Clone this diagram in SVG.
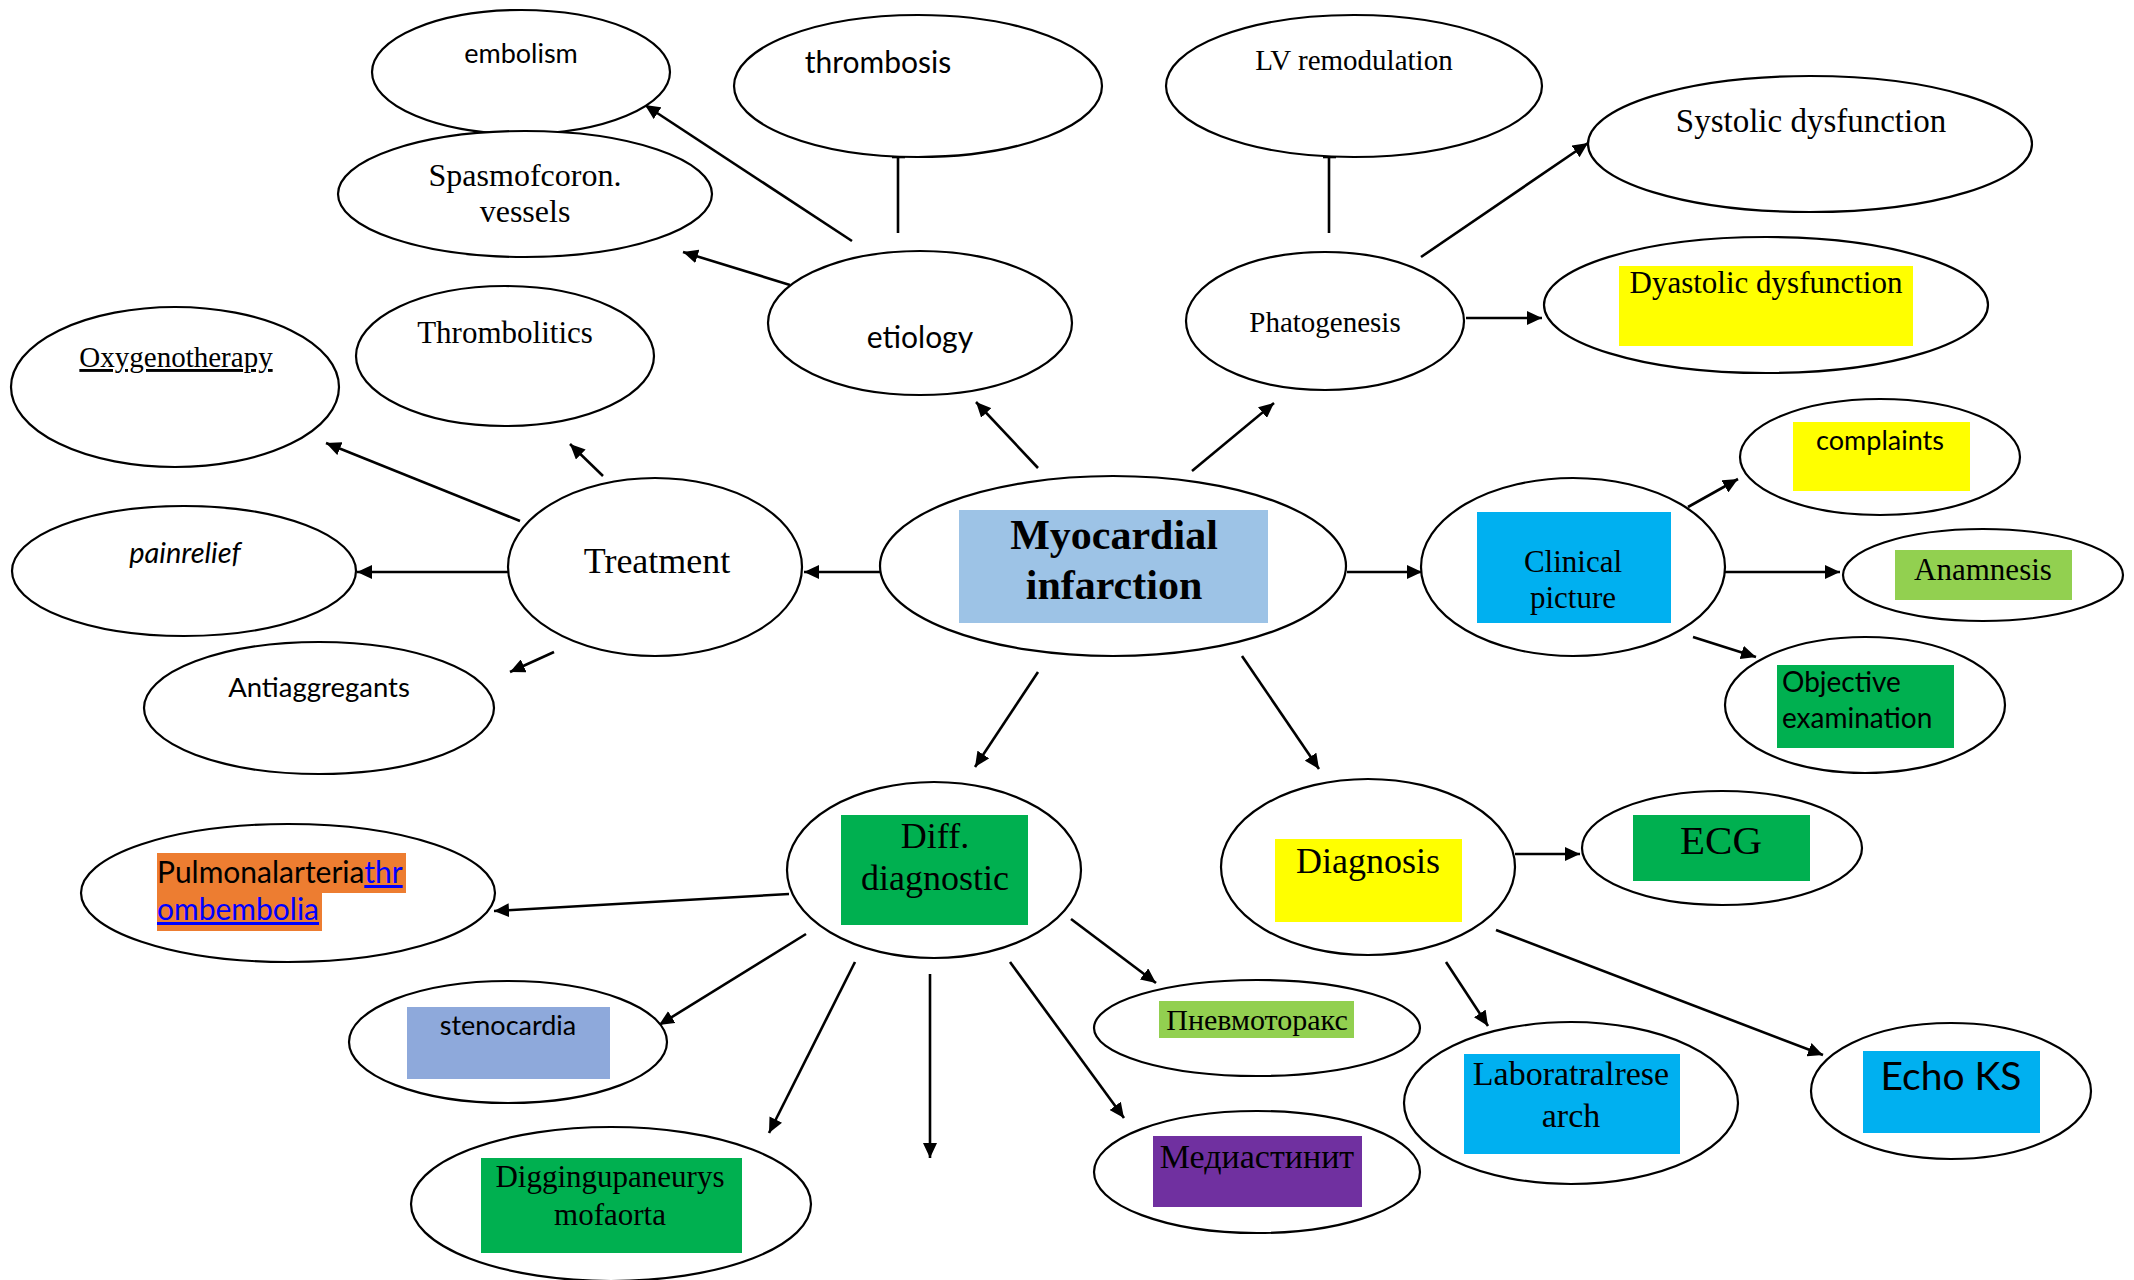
<svg xmlns="http://www.w3.org/2000/svg" width="2134" height="1280" viewBox="0 0 2134 1280">
<style>
.n{fill:#fff;stroke:#000;stroke-width:2.2}
.c line{stroke:#000;stroke-width:2.6}
.s{font-family:"Liberation Serif","Times New Roman",serif;fill:#000;text-anchor:middle}
.a{font-family:Lato,"Liberation Sans",sans-serif;fill:#000;text-anchor:middle}
.st{text-anchor:start}
.lk{fill:#0000ff;text-decoration:underline}
</style>
<defs>
<marker id="ah" markerUnits="userSpaceOnUse" markerWidth="16" markerHeight="14" refX="15" refY="7" orient="auto">
<path d="M0,0 L15,7 L0,14 z" fill="#000"/>
</marker>
</defs>
<rect width="2134" height="1280" fill="#fff"/>

<g class="c" id="connectors">
<line x1="1038" y1="468" x2="976" y2="402" marker-end="url(#ah)"/>
<line x1="1192" y1="471" x2="1274" y2="403" marker-end="url(#ah)"/>
<line x1="880" y1="572" x2="804" y2="572" marker-end="url(#ah)"/>
<line x1="1347" y1="572" x2="1422" y2="572" marker-end="url(#ah)"/>
<line x1="1038" y1="672" x2="975" y2="767" marker-end="url(#ah)"/>
<line x1="1242" y1="656" x2="1319" y2="769" marker-end="url(#ah)"/>
<line x1="852" y1="241" x2="645" y2="105" marker-end="url(#ah)"/>
<line x1="790" y1="285" x2="683" y2="252" marker-end="url(#ah)"/>
<line x1="898" y1="233" x2="898" y2="157"/>
<line x1="892" y1="157" x2="905" y2="157"/>
<line x1="1329" y1="233" x2="1329" y2="157"/>
<line x1="1323" y1="157" x2="1336" y2="157"/>
<line x1="1421" y1="257" x2="1588" y2="143" marker-end="url(#ah)"/>
<line x1="1466" y1="318" x2="1542" y2="318" marker-end="url(#ah)"/>
<line x1="520" y1="521" x2="326" y2="443" marker-end="url(#ah)"/>
<line x1="603" y1="476" x2="570" y2="444" marker-end="url(#ah)"/>
<line x1="509" y1="572" x2="357" y2="572" marker-end="url(#ah)"/>
<line x1="554" y1="652" x2="510" y2="672" marker-end="url(#ah)"/>
<line x1="1688" y1="507" x2="1738" y2="479" marker-end="url(#ah)"/>
<line x1="1725" y1="572" x2="1840" y2="572" marker-end="url(#ah)"/>
<line x1="1693" y1="637" x2="1756" y2="657" marker-end="url(#ah)"/>
<line x1="789" y1="894" x2="494" y2="911" marker-end="url(#ah)"/>
<line x1="806" y1="934" x2="659" y2="1025" marker-end="url(#ah)"/>
<line x1="855" y1="962" x2="769" y2="1133" marker-end="url(#ah)"/>
<line x1="930" y1="974" x2="930" y2="1158" marker-end="url(#ah)"/>
<line x1="1010" y1="962" x2="1124" y2="1118" marker-end="url(#ah)"/>
<line x1="1071" y1="919" x2="1156" y2="983" marker-end="url(#ah)"/>
<line x1="1515" y1="854" x2="1580" y2="854" marker-end="url(#ah)"/>
<line x1="1446" y1="962" x2="1488" y2="1026" marker-end="url(#ah)"/>
<line x1="1496" y1="930" x2="1823" y2="1055" marker-end="url(#ah)"/>
</g>

<g id="embolism"><ellipse class="n" cx="521" cy="72" rx="149" ry="62"/><text class="a" x="521" y="63" font-size="27">embolism</text></g>
<g id="thrombosis"><ellipse class="n" cx="918" cy="86" rx="184" ry="71"/><text class="a" x="878" y="73" font-size="30">thrombosis</text></g>
<g id="lv-remodulation"><ellipse class="n" cx="1354" cy="86" rx="188" ry="71"/><text class="s" x="1354" y="70" font-size="29">LV remodulation</text></g>
<g id="systolic"><ellipse class="n" cx="1810" cy="144" rx="222" ry="68"/><text class="s" x="1811" y="132" font-size="33">Systolic dysfunction</text></g>
<g id="spasm"><ellipse class="n" cx="525" cy="194" rx="187" ry="63"/><text class="s" x="525" y="186" font-size="32">Spasmofcoron.</text><text class="s" x="525" y="222" font-size="32">vessels</text></g>
<g id="etiology"><ellipse class="n" cx="920" cy="323" rx="152" ry="72"/><text class="a" x="920" y="348" font-size="30">etiology</text></g>
<g id="phatogenesis"><ellipse class="n" cx="1325" cy="321" rx="139" ry="69"/><text class="s" x="1325" y="332" font-size="29">Phatogenesis</text></g>
<g id="dyastolic"><ellipse class="n" cx="1766" cy="305" rx="222" ry="68"/><rect x="1619" y="266" width="294" height="80" fill="#ffff00"/><text class="s" x="1766" y="293" font-size="31">Dyastolic dysfunction</text></g>
<g id="thrombolitics"><ellipse class="n" cx="505" cy="356" rx="149" ry="70"/><text class="s" x="505" y="343" font-size="31">Thrombolitics</text></g>
<g id="oxygenotherapy"><ellipse class="n" cx="175" cy="387" rx="164" ry="80"/><text class="s" x="176" y="367" font-size="29" text-decoration="underline">Oxygenotherapy</text></g>
<g id="treatment"><ellipse class="n" cx="655" cy="567" rx="147" ry="89"/><text class="s" x="657" y="573" font-size="36">Treatment</text></g>
<g id="painrelief"><ellipse class="n" cx="184" cy="571" rx="172" ry="65"/><text class="a" x="185" y="563" font-size="29" font-style="italic">painrelief</text></g>
<g id="antiaggregants"><ellipse class="n" cx="319" cy="708" rx="175" ry="66"/><text class="a" x="319" y="697" font-size="27.5">Antiaggregants</text></g>
<g id="myocardial"><ellipse class="n" cx="1113" cy="566" rx="233" ry="90"/><rect x="959" y="510" width="309" height="113" fill="#9dc3e6"/><text class="s" x="1114" y="549" font-size="42" font-weight="bold">Myocardial</text><text class="s" x="1114" y="599" font-size="42" font-weight="bold">infarction</text></g>
<g id="clinical"><ellipse class="n" cx="1573" cy="567" rx="152" ry="89"/><rect x="1477" y="512" width="194" height="111" fill="#00b0f0"/><text class="s" x="1573" y="572" font-size="31">Clinical</text><text class="s" x="1573" y="608" font-size="31">picture</text></g>
<g id="complaints"><ellipse class="n" cx="1880" cy="457" rx="140" ry="58"/><rect x="1793" y="422" width="177" height="69" fill="#ffff00"/><text class="a" x="1880" y="450" font-size="27">complaints</text></g>
<g id="anamnesis"><ellipse class="n" cx="1983" cy="575" rx="140" ry="46"/><rect x="1895" y="550" width="177" height="50" fill="#92d050"/><text class="s" x="1983" y="580" font-size="31">Anamnesis</text></g>
<g id="objective"><ellipse class="n" cx="1865" cy="705" rx="140" ry="68"/><rect x="1777" y="665" width="177" height="83" fill="#00b050"/><text class="a st" x="1782" y="692" font-size="28">Objective</text><text class="a st" x="1782" y="728" font-size="28">examination</text></g>
<g id="diff"><ellipse class="n" cx="934" cy="870" rx="147" ry="88"/><rect x="841" y="815" width="187" height="110" fill="#00b050"/><text class="s" x="935" y="848" font-size="36">Diff.</text><text class="s" x="935" y="890" font-size="36">diagnostic</text></g>
<g id="diagnosis"><ellipse class="n" cx="1368" cy="867" rx="147" ry="88"/><rect x="1275" y="839" width="187" height="83" fill="#ffff00"/><text class="s" x="1368" y="873" font-size="36">Diagnosis</text></g>
<g id="ecg"><ellipse class="n" cx="1722" cy="848" rx="140" ry="57"/><rect x="1633" y="815" width="177" height="66" fill="#00b050"/><text class="s" x="1721" y="854" font-size="41">ECG</text></g>
<g id="pulmonal"><ellipse class="n" cx="288" cy="893" rx="207" ry="69"/><rect x="157" y="853" width="249" height="40" fill="#ed7d31"/><rect x="157" y="893" width="165" height="38" fill="#ed7d31"/><text class="a st" x="157" y="883" font-size="30">Pulmonalarteria<tspan class="lk">thr</tspan></text><text class="a st lk" x="157" y="920" font-size="30">ombembolia</text></g>
<g id="stenocardia"><ellipse class="n" cx="508" cy="1042" rx="159" ry="61"/><rect x="407" y="1007" width="203" height="72" fill="#8ea9db"/><text class="a" x="508" y="1035" font-size="27">stenocardia</text></g>
<g id="digging"><ellipse class="n" cx="611" cy="1204" rx="200" ry="77"/><rect x="481" y="1158" width="261" height="95" fill="#00b050"/><text class="s" x="610" y="1187" font-size="31">Diggingupaneurys</text><text class="s" x="610" y="1225" font-size="31">mofaorta</text></g>
<g id="pneumothorax"><ellipse class="n" cx="1257" cy="1028" rx="163" ry="48"/><rect x="1159" y="1001" width="195" height="37" fill="#92d050"/><text class="s" x="1257" y="1030" font-size="30">Пневмоторакс</text></g>
<g id="mediastinit"><ellipse class="n" cx="1257" cy="1172" rx="163" ry="61"/><rect x="1153" y="1136" width="209" height="71" fill="#7030a0"/><text class="s" x="1257" y="1168" font-size="34">Медиастинит</text></g>
<g id="laboratory"><ellipse class="n" cx="1571" cy="1103" rx="167" ry="81"/><rect x="1464" y="1054" width="216" height="100" fill="#00b0f0"/><text class="s" x="1571" y="1085" font-size="34">Laboratralrese</text><text class="s" x="1571" y="1127" font-size="34">arch</text></g>
<g id="echo"><ellipse class="n" cx="1951" cy="1091" rx="140" ry="68"/><rect x="1863" y="1051" width="177" height="82" fill="#00b0f0"/><text class="a" x="1951" y="1090" font-size="39">Echo KS</text></g>
</svg>
